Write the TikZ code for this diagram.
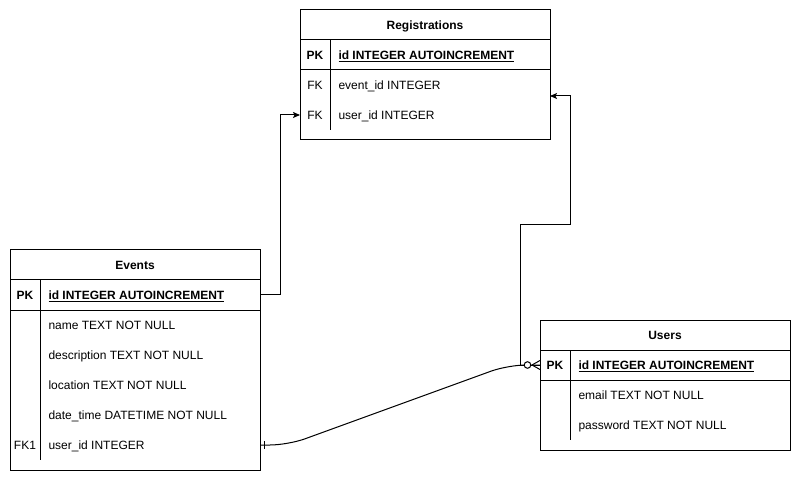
\documentclass[tikz,border=0pt]{standalone}
\usepackage{fontspec}
\setmainfont{Liberation Sans}
\usetikzlibrary{arrows.meta}
\begin{document}
\begin{tikzpicture}[x=1pt,y=-1pt,line width=1pt,
  tbl/.style={draw,inner sep=0pt,outer sep=0pt,minimum width=250pt,anchor=north west},
  rowbox/.style={inner sep=0pt,outer sep=0pt,minimum width=250pt,minimum height=30pt},
  txt/.style={font=\fontsize{12}{14}\selectfont,inner sep=0pt,text height=8.6pt,text depth=0pt},
  ttl/.style={txt,font=\fontsize{12}{14}\selectfont\bfseries},
  keytxt/.style={txt},
  pktxt/.style={txt,font=\fontsize{12}{14}\selectfont\bfseries},
  fld/.style={txt,anchor=west},
  pkfld/.style={txt,font=\fontsize{12}{14}\selectfont\bfseries,anchor=west},
  conn/.style={line width=1pt},
  arr/.style={-{Stealth[length=7pt,width=6pt,inset=1.5pt]}}
]
\useasboundingbox (0,0) rectangle (801,481);
\fill[white] (0,0) rectangle (801,481);

% ---------- Registrations ----------
\node[tbl,minimum height=130pt] (reg) at (300,10) {};
\draw (300,40) -- (550,40);
\draw (300,70) -- (550,70);
\draw (330,40) -- (330,130);
\node[ttl] (regt) at (425,25) {Registrations};
\node[rowbox] (regpk) at (425,55) {};
\node[rowbox] (regev) at (425,85) {};
\node[rowbox] (regus) at (425,115) {};
\node[pktxt] (regpkk) at (315,55) {PK};
\node[pkfld] (regpkf) at (338,55) {\underline{id INTEGER AUTOINCREMENT}};
\node[keytxt] (regevk) at (315,85) {FK};
\node[fld] (regevf) at (338,85) {event\_id INTEGER};
\node[keytxt] (regusk) at (315,115) {FK};
\node[fld] (regusf) at (338,115) {user\_id INTEGER};
\coordinate (regin) at (550,96);

% ---------- Events ----------
\node[tbl,minimum height=220pt] (ev) at (10,250) {};
\draw (10,280) -- (260,280);
\draw (10,310) -- (260,310);
\draw (40,280) -- (40,460);
\node[ttl] (evt) at (135,265) {Events};
\node[rowbox] (evpk) at (135,295) {};
\node[rowbox] (evus) at (135,445) {};
\node[pktxt] (evpkk) at (25,295) {PK};
\node[pkfld] (evpkf) at (48,295) {\underline{id INTEGER AUTOINCREMENT}};
\node[fld] (evf1) at (48,325) {name TEXT NOT NULL};
\node[fld] (evf2) at (48,355) {description TEXT NOT NULL};
\node[fld] (evf3) at (48,385) {location TEXT NOT NULL};
\node[fld] (evf4) at (48,415) {date\_time DATETIME NOT NULL};
\node[keytxt] (evusk) at (25,445) {FK1};
\node[fld] (evusf) at (48,445) {user\_id INTEGER};

% ---------- Users ----------
\node[tbl,minimum height=130pt] (us) at (540,320) {};
\draw (540,350) -- (790,350);
\draw (540,380) -- (790,380);
\draw (570,350) -- (570,440);
\node[ttl] (ust) at (665,335) {Users};
\node[rowbox] (uspk) at (665,365) {};
\node[pktxt] (uspkk) at (555,365) {PK};
\node[pkfld] (uspkf) at (578,365) {\underline{id INTEGER AUTOINCREMENT}};
\node[fld] (usf1) at (578,395) {email TEXT NOT NULL};
\node[fld] (usf2) at (578,425) {password TEXT NOT NULL};

% ---------- Connectors ----------
\draw[conn,arr] (evpk.east) -- (280,295) |- (regus.west);
\draw[conn,arr] (uspk.west) -- (520,365) |- (570,225) |- (regin);
\draw[conn,rounded corners=18pt] (evus.east) -- (288,445) -- (508,365) -- (uspk.west);
% one mark at Events end
\draw[conn] (264,441) -- (264,449);
% zero-or-many at Users end
\draw[conn] (532,365) -- (540,360.5);
\draw[conn] (532,365) -- (540,369.5);
\draw[conn,fill=white] (527.5,365) circle (3.3pt);
\end{tikzpicture}
\end{document}
